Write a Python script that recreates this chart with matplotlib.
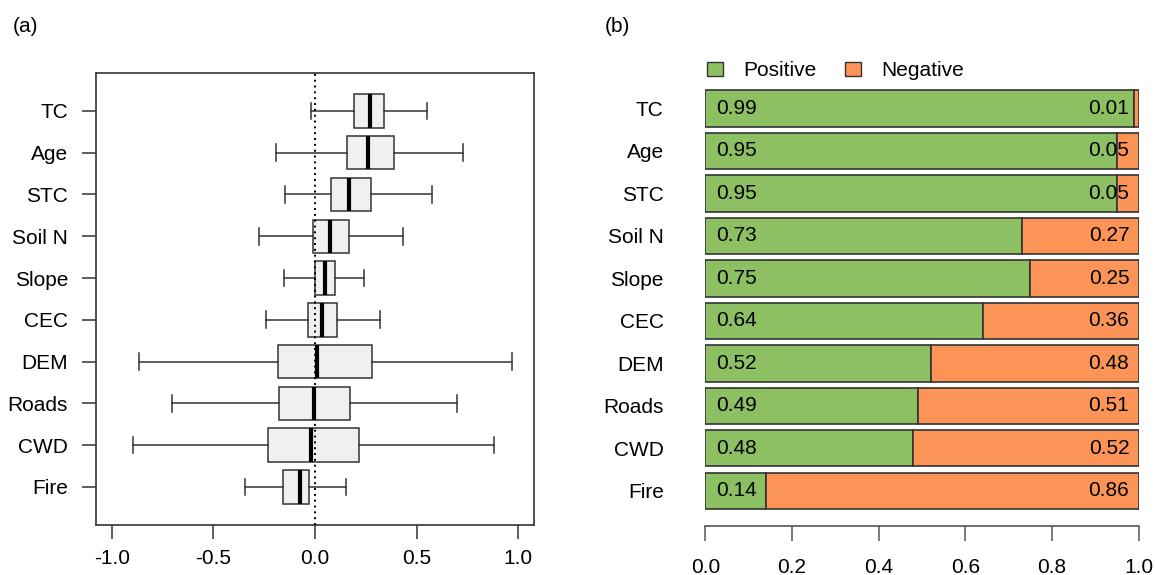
import numpy as np
import matplotlib
matplotlib.use("Agg")
import matplotlib.pyplot as plt
from matplotlib.patches import Patch

plt.rcParams['font.family'] = ['Liberation Sans', 'DejaVu Sans']

# variables, top to bottom
etiquetas = ['TC', 'Age', 'STC', 'Soil N', 'Slope', 'CEC', 'DEM', 'Roads', 'CWD', 'Fire']

# boxplot stats (a)
whislo = [-0.02, -0.19, -0.146, -0.274, -0.151, -0.243, -0.867, -0.706, -0.898, -0.345]
q1 = [0.194, 0.158, 0.079, -0.012, -0.002, -0.033, -0.181, -0.179, -0.23, -0.156]
med = [0.271, 0.261, 0.167, 0.074, 0.051, 0.033, 0.008, -0.007, -0.018, -0.074]
q3 = [0.338, 0.391, 0.277, 0.167, 0.097, 0.11, 0.281, 0.172, 0.215, -0.03]
whishi = [0.55, 0.729, 0.576, 0.432, 0.243, 0.319, 0.969, 0.698, 0.882, 0.151]

# proportions (b)
positivo = [0.99, 0.95, 0.95, 0.73, 0.75, 0.64, 0.52, 0.49, 0.48, 0.14]
negativo = [0.01, 0.05, 0.05, 0.27, 0.25, 0.36, 0.48, 0.51, 0.52, 0.86]

verde = '#8CC063'
naranja = '#FD9457'
borde = '#333333'
fs = 15

n = len(etiquetas)
pos = np.arange(n, 0, -1)

fig = plt.figure(figsize=(11.55, 5.75), dpi=100)

# ---- (a) boxplots ----
ax1 = fig.add_axes([95.7 / 1155, 50.5 / 575, 438.6 / 1155, 451.2 / 575])
stats = []
for i in range(n):
    stats.append({'whislo': whislo[i], 'q1': q1[i], 'med': med[i],
                  'q3': q3[i], 'whishi': whishi[i], 'fliers': []})
ax1.bxp(stats, positions=pos, vert=False, widths=0.8, capwidths=0.4,
        patch_artist=True, showfliers=False,
        boxprops=dict(facecolor='#F0F0F0', edgecolor=borde, linewidth=1.1),
        medianprops=dict(color='black', linewidth=3, solid_capstyle='butt'),
        whiskerprops=dict(color=borde, linewidth=1.1),
        capprops=dict(color=borde, linewidth=1.1))
ax1.axvline(0, color='black', linestyle=(0, (1, 2)), linewidth=1.4, zorder=5)
ax1.set_xlim(-1.08, 1.08)
ax1.set_ylim(0.1, 10.9)
ax1.set_xticks([-1.0, -0.5, 0.0, 0.5, 1.0])
ax1.set_xticklabels(['-1.0', '-0.5', '0.0', '0.5', '1.0'])
ax1.set_yticks(pos)
ax1.set_yticklabels(etiquetas)
ax1.tick_params(axis='x', length=10, width=1.1, pad=8, labelsize=fs, color=borde)
ax1.tick_params(axis='y', length=10, width=1.1, pad=10, labelsize=fs, color=borde)
for s in ax1.spines.values():
    s.set_linewidth(1.2)
    s.set_color(borde)
fig.text(13 / 1155, 1 - 26 / 575, '(a)', fontsize=fs, ha='left', va='center')

# ---- (b) stacked bars ----
ax2 = fig.add_axes([705.3 / 1155, 49 / 575, 433.5 / 1155, 446 / 575])
alto = 0.855
ax2.barh(pos, positivo, height=alto, color=verde, edgecolor=borde, linewidth=1.2)
ax2.barh(pos, negativo, left=positivo, height=alto, color=naranja,
         edgecolor=borde, linewidth=1.2)
for i in range(n):
    ax2.text(0.025, pos[i], f'{positivo[i]:.2f}', ha='left', va='center',
             fontsize=fs, zorder=6)
    ax2.text(0.978, pos[i], f'{negativo[i]:.2f}', ha='right', va='center',
             fontsize=fs, zorder=6)
ax2.set_xlim(0, 1)
ax2.set_ylim(0.171, 10.67)
ax2.set_xticks([0, 0.2, 0.4, 0.6, 0.8, 1.0])
ax2.set_xticklabels(['0.0', '0.2', '0.4', '0.6', '0.8', '1.0'])
ax2.set_yticks(pos)
ax2.set_yticklabels(etiquetas)
ax2.tick_params(axis='x', length=11, width=1.1, pad=12, labelsize=fs, color='#555555')
ax2.tick_params(axis='y', length=0, pad=30, labelsize=fs)
for lado in ['top', 'right', 'left']:
    ax2.spines[lado].set_visible(False)
ax2.spines['bottom'].set_linewidth(1.2)
ax2.spines['bottom'].set_color('#555555')
fig.text(605 / 1155, 1 - 26 / 575, '(b)', fontsize=fs, ha='left', va='center')

manijas = [Patch(facecolor=verde, edgecolor=borde, label='Positive'),
           Patch(facecolor=naranja, edgecolor=borde, label='Negative')]
fig.legend(handles=manijas, loc='center left', bbox_to_anchor=(707 / 1155, 1 - 71 / 575),
           ncol=2, frameon=False, fontsize=fs, handlelength=0.77, handleheight=0.63,
           handletextpad=0.95, columnspacing=1.4, borderpad=0, borderaxespad=0)

fig.savefig('out.png', dpi=100)
